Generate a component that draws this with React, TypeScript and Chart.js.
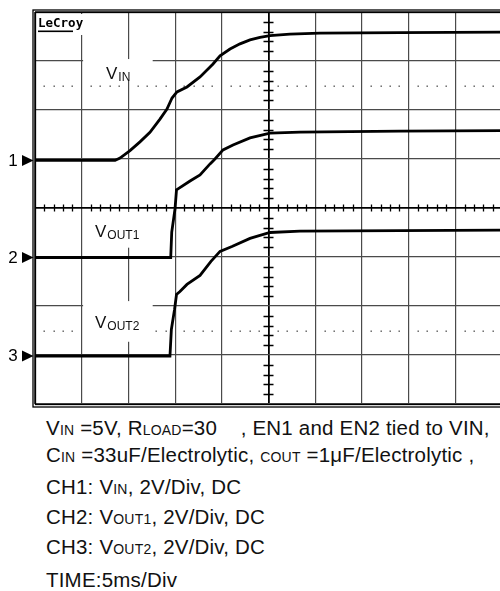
import React, { useEffect, useRef } from "react";
import { Chart, registerables } from "chart.js";

Chart.register(...registerables);

// Horizontal: time in ms, 5 ms/div, 10 divisions
const TIME_MIN = 0;
const TIME_MAX = 50;
const TIME_STEP = 5;
// Vertical: screen divisions, 2 V/div
const DIV_MIN = -4;
const DIV_MAX = 4;
const VOLTS_PER_DIV = 2;

const channelNames = ["1", "2", "3"];
const channelOffsets = [0.97, -1.01, -3.02]; // ground level of each channel, in divisions

// CH1: VIN
const vinTime = [0, 8.57, 9.1, 10.17, 11.24, 12.31, 13.38, 14.13, 14.67, 15.2, 16.27, 17.67, 19.06, 19.81, 20.88, 21.95, 23.02, 24.09, 25.16, 27.3, 30.51, 39.08, 50];
const vinVolts = [0, 0, 0.1, 0.4, 0.76, 1.15, 1.69, 2.1, 2.55, 2.8, 3.0, 3.41, 3.94, 4.27, 4.55, 4.76, 4.92, 5.02, 5.1, 5.16, 5.2, 5.22, 5.24];

// CH2: VOUT1
const vout1Time = [0, 14.53, 14.64, 14.99, 15.15, 15.31, 16.6, 17.67, 18.74, 19.27, 20.13, 21.2, 23.02, 25.16, 28.37, 39.08, 50];
const vout1Volts = [0, 0, 1.04, 1.98, 2.76, 2.8, 3.12, 3.37, 3.82, 4.02, 4.39, 4.59, 4.88, 5.08, 5.12, 5.16, 5.18];

// CH3: VOUT2
const vout2Time = [0, 14.45, 14.6, 14.94, 15.15, 15.52, 16.27, 17.67, 18.84, 19.81, 21.09, 23.02, 25.16, 28.37, 39.08, 50];
const vout2Volts = [0, 0, 1.08, 1.9, 2.51, 2.63, 2.92, 3.29, 3.86, 4.27, 4.47, 4.8, 5.04, 5.1, 5.12, 5.14];

const traceTimes = [vinTime, vout1Time, vout2Time];
const traceVolts = [vinVolts, vout1Volts, vout2Volts];

// trace labels on screen
const labelMain = ["V", "V", "V"];
const labelSub = ["IN", "OUT1", "OUT2"];

const FONT = '"Liberation Sans", Arial, Helvetica, sans-serif';

const scopePlugin = {
  id: "scopeDecor",
  beforeDatasetsDraw(chart: any) {
    const { ctx, scales } = chart;
    const xs = scales.x;
    const ys = scales.y;
    ctx.save();
    // dotted reference lines at +/- 2.5 div
    ctx.fillStyle = "#555";
    [2.5, -2.5].forEach((v) => {
      const py = ys.getPixelForValue(v);
      for (let t = TIME_MIN + 1; t < TIME_MAX; t++) {
        if (t % TIME_STEP === 0) continue;
        const px = xs.getPixelForValue(t);
        ctx.fillRect(Math.round(px) - 0.5, Math.round(py) - 0.5, 1.4, 1.4);
      }
    });
    // ticks on centre axes
    ctx.strokeStyle = "#000";
    ctx.lineWidth = 1.3;
    const cx = xs.getPixelForValue((TIME_MIN + TIME_MAX) / 2);
    const cy = ys.getPixelForValue(0);
    ctx.beginPath();
    for (let t = TIME_MIN + 1; t < TIME_MAX; t++) {
      if (t % TIME_STEP === 0) continue;
      const px = Math.round(xs.getPixelForValue(t)) + 0.5;
      ctx.moveTo(px, cy - 3.5);
      ctx.lineTo(px, cy + 3.5);
    }
    for (let k = DIV_MIN * 5 + 1; k < DIV_MAX * 5; k++) {
      if (k % 5 === 0) continue;
      const py = Math.round(ys.getPixelForValue(k / 5)) + 0.5;
      ctx.moveTo(cx - 5, py);
      ctx.lineTo(cx + 5, py);
    }
    ctx.stroke();
    // label boxes + labels
    const boxes = [
      [3.04, 2.6],
      [-0.08, -0.81],
      [-1.9, -2.73],
    ];
    const labelPos = [
      [7.6, 2.63],
      [6.42, -0.585],
      [6.42, -2.44],
    ];
    ctx.fillStyle = "#fff";
    boxes.forEach(([y0, y1]) => {
      const x0 = xs.getPixelForValue(5.15);
      const x1 = xs.getPixelForValue(12.6);
      const p0 = ys.getPixelForValue(y0);
      const p1 = ys.getPixelForValue(y1);
      ctx.fillRect(x0, p0, x1 - x0, p1 - p0);
    });
    ctx.fillStyle = "#111";
    ctx.textBaseline = "alphabetic";
    ctx.textAlign = "left";
    labelPos.forEach(([t, v], i) => {
      const px = xs.getPixelForValue(t);
      const py = ys.getPixelForValue(v);
      ctx.font = `17px ${FONT}`;
      ctx.fillText(labelMain[i], px, py);
      const w = ctx.measureText(labelMain[i]).width;
      ctx.font = `12px ${FONT}`;
      ctx.fillText(labelSub[i], px + w + 1, py + 2);
    });
    ctx.restore();
  },
  afterDraw(chart: any) {
    const { ctx, chartArea: a, scales } = chart;
    const ys = scales.y;
    ctx.save();
    // double frame
    ctx.strokeStyle = "#000";
    ctx.lineWidth = 1.3;
    ctx.strokeRect(a.left + 0.5, a.top + 0.5, a.right - a.left, a.bottom - a.top);
    ctx.strokeRect(a.left - 2, a.top - 2, a.right - a.left + 5, a.bottom - a.top + 5);
    // logo
    ctx.fillStyle = "#fff";
    ctx.fillRect(a.left + 2, a.top + 2, 46, 21);
    ctx.fillStyle = "#000";
    ctx.font = 'bold 12.5px "DejaVu Sans Mono", monospace';
    ctx.textAlign = "left";
    ctx.textBaseline = "alphabetic";
    ctx.fillText("LeCroy", a.left + 3, a.top + 15);
    ctx.fillRect(a.left + 3, a.top + 18.5, 35, 1.6);
    // channel markers
    channelNames.forEach((name, i) => {
      const py = ys.getPixelForValue(channelOffsets[i]);
      ctx.font = `17px ${FONT}`;
      ctx.textAlign = "center";
      ctx.textBaseline = "middle";
      ctx.fillStyle = "#000";
      ctx.fillText(name, 13, py + 0.5);
      ctx.beginPath();
      ctx.moveTo(22, py - 5.5);
      ctx.lineTo(33.5, py);
      ctx.lineTo(22, py + 5.5);
      ctx.closePath();
      ctx.fill();
    });
    ctx.restore();
  },
};

function ScopeChart() {
  const ref = useRef<HTMLCanvasElement | null>(null);
  useEffect(() => {
    if (!ref.current) return;
    const datasets = traceTimes.map((times, c) => ({
      label: "CH" + channelNames[c],
      data: times.map((t, i) => ({ x: t, y: channelOffsets[c] + traceVolts[c][i] / VOLTS_PER_DIV })),
      borderColor: "#000",
      borderWidth: 2.8,
      pointRadius: 0,
      tension: 0,
      fill: false,
    }));
    const gridOpts = (centre: number) => ({
      color: (c: any) => (c.tick && c.tick.value === centre ? "#000" : "#4a4a4a"),
      lineWidth: (c: any) => (c.tick && c.tick.value === centre ? 1.8 : 1.2),
      drawTicks: false,
    });
    const chart = new Chart(ref.current, {
      type: "line",
      data: { datasets },
      options: {
        responsive: false,
        devicePixelRatio: 1,
        animation: false,
        events: [],
        layout: { padding: { left: 35, right: 18, top: 12, bottom: 6 } },
        plugins: { legend: { display: false }, tooltip: { enabled: false }, title: { display: false } },
        scales: {
          x: {
            type: "linear",
            min: TIME_MIN,
            max: TIME_MAX,
            ticks: { stepSize: TIME_STEP, display: false },
            grid: gridOpts((TIME_MIN + TIME_MAX) / 2),
            border: { display: false },
            afterFit: (s: any) => {
              s.height = 0;
            },
          },
          y: {
            type: "linear",
            min: DIV_MIN,
            max: DIV_MAX,
            ticks: { stepSize: 1, display: false },
            grid: gridOpts(0),
            border: { display: false },
            afterFit: (s: any) => {
              s.width = 0;
            },
          },
        },
      },
      plugins: [scopePlugin],
    });
    return () => chart.destroy();
  }, []);
  return (
    <canvas
      ref={ref}
      width={520}
      height={410}
      style={{ position: "absolute", left: 0, top: 0, width: 520, height: 410 }}
    />
  );
}

const sub = (s: string) => <span style={{ fontSize: 14 }}>{s}</span>;

const lineStyle = (top: number): React.CSSProperties => ({
  position: "absolute",
  left: 46,
  top,
  fontFamily: FONT,
  fontSize: 20.5,
  lineHeight: "20.5px",
  letterSpacing: "0.2px",
  whiteSpace: "pre",
  color: "#111",
});

export default function App() {
  return (
    <div
      style={{
        position: "absolute",
        left: 0,
        top: 0,
        width: 500,
        height: 591,
        overflow: "hidden",
        background: "#fff",
      }}
    >
      <ScopeChart />
      <div style={lineStyle(417.6)}>
        V{sub("IN")} =5V, R{sub("LOAD")}=30    , EN1 and EN2 tied to VIN,
      </div>
      <div style={lineStyle(444.6)}>
        C{sub("IN")} =33uF/Electrolytic, {sub("COUT")} =1μF/Electrolytic ,
      </div>
      <div style={lineStyle(476.6)}>CH1: V{sub("IN")}, 2V/Div, DC</div>
      <div style={lineStyle(506.6)}>CH2: V{sub("OUT1")}, 2V/Div, DC</div>
      <div style={lineStyle(536.6)}>CH3: V{sub("OUT2")}, 2V/Div, DC</div>
      <div style={lineStyle(569.6)}>TIME:5ms/Div</div>
    </div>
  );
}
